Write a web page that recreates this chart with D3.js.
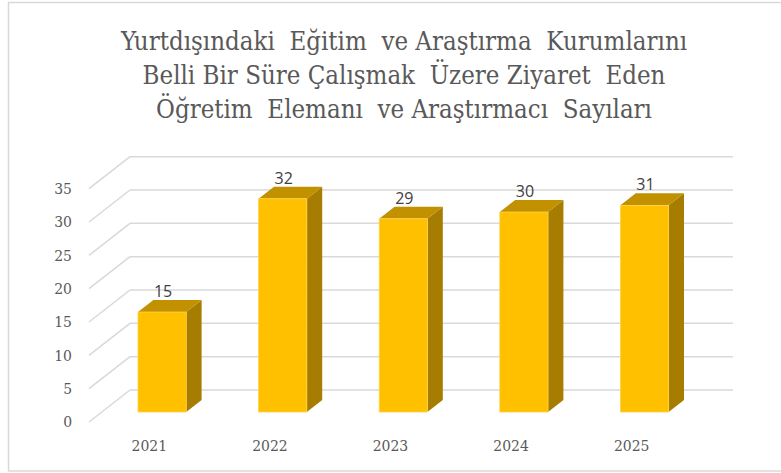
<!DOCTYPE html>
<html>
<head>
<meta charset="utf-8">
<script src="https://cdn.jsdelivr.net/npm/d3@7"></script>
<style>
  body { margin: 0; background: #fff; }
  svg { display: block; }
  .serif { font-family: "DejaVu Serif Condensed", "DejaVu Serif", serif; font-stretch: condensed; }
</style>
</head>
<body>
<script>
// chart data
const years = ["2021", "2022", "2023", "2024", "2025"]
const counts = [15, 32, 29, 30, 31]
const yTicks = [0, 5, 10, 15, 20, 25, 30, 35]
const titleLines = [
  "Yurtdışındaki  Eğitim  ve Araştırma  Kurumlarını",
  "Belli Bir Süre Çalışmak  Üzere Ziyaret  Eden",
  "Öğretim  Elemanı  ve Araştırmacı  Sayıları"
]

const width = 781, height = 473

const svg = d3.select("body").append("svg")
  .attr("width", width)
  .attr("height", height)

// outer frame (right edge falls off the picture)
svg.append("rect")
  .attr("x", 8.5).attr("y", 2.5)
  .attr("width", 800).attr("height", 468.5)
  .attr("fill", "none")
  .attr("stroke", "#d9d9d9")
  .attr("stroke-width", 1.5)

// title
svg.append("g").selectAll("text")
  .data(titleLines)
  .enter()
  .append("text")
  .attr("class", "serif")
  .attr("x", 404)
  .attr("y", (d, i) => 50 + i * 34)
  .attr("text-anchor", "middle")
  .attr("font-size", "25.6px")
  .attr("fill", "#595959")
  .style("white-space", "pre")
  .text(d => d)

// back wall scales, depth vector for the oblique floor
let x = d3.scaleBand().domain(years).range([130, 733]).padding(0)
let y = d3.scaleLinear().domain([0, 35]).range([390, 156.7])
let depth = [-41, 32]
let front = 0.6875, back = 0.3125
let barW = x.bandwidth() * 0.4

// gridlines: back wall + side wall diagonal
let grid = svg.append("g")
  .attr("stroke", "#d9d9d9")
  .attr("stroke-width", 1.5)
  .attr("fill", "none")

grid.selectAll(".back")
  .data(yTicks)
  .enter()
  .append("line")
  .attr("x1", x.range()[0]).attr("x2", x.range()[1])
  .attr("y1", d => y(d)).attr("y2", d => y(d))

grid.selectAll(".side")
  .data(yTicks)
  .enter()
  .append("line")
  .attr("x1", x.range()[0]).attr("y1", d => y(d))
  .attr("x2", x.range()[0] + depth[0]).attr("y2", d => y(d) + depth[1])

// y tick labels
svg.append("g").selectAll("text")
  .data(yTicks)
  .enter()
  .append("text")
  .attr("class", "serif")
  .attr("x", 72)
  .attr("y", d => y(d) + depth[1])
  .attr("dy", "0.35em")
  .attr("text-anchor", "end")
  .attr("font-size", "15.5px")
  .attr("fill", "#595959")
  .text(d => d)

// bars
let bars = svg.append("g").selectAll("g")
  .data(years.map((yr, i) => ({year: yr, value: counts[i]})))
  .enter()
  .append("g")

function corners(d) {
  let cx = x(d.year) + x.bandwidth() / 2
  let fx = cx + depth[0] * front - barW / 2
  let fy0 = y(0) + depth[1] * front
  let fy1 = y(d.value) + depth[1] * front
  let dx = depth[0] * (back - front), dy = depth[1] * (back - front)
  return {fx, fy0, fy1, dx, dy}
}

// right side face
bars.append("path")
  .attr("fill", "#a67d00")
  .attr("d", d => {
    let c = corners(d)
    let r = c.fx + barW
    return `M${r},${c.fy1} L${r + c.dx},${c.fy1 + c.dy} L${r + c.dx},${c.fy0 + c.dy} L${r},${c.fy0} Z`
  })

// top face
bars.append("path")
  .attr("fill", "#c29100")
  .attr("d", d => {
    let c = corners(d)
    return `M${c.fx},${c.fy1} L${c.fx + c.dx},${c.fy1 + c.dy} L${c.fx + barW + c.dx},${c.fy1 + c.dy} L${c.fx + barW},${c.fy1} Z`
  })

// front face
bars.append("rect")
  .attr("fill", "#ffc000")
  .attr("stroke", "#ffd34d")
  .attr("stroke-width", 0.8)
  .attr("x", d => corners(d).fx)
  .attr("y", d => corners(d).fy1)
  .attr("width", barW)
  .attr("height", d => corners(d).fy0 - corners(d).fy1)

// value labels
bars.append("text")
  .attr("x", d => corners(d).fx + barW / 2 + 1)
  .attr("y", d => corners(d).fy1 + corners(d).dy - 3)
  .attr("text-anchor", "middle")
  .attr("font-family", "'Open Sans', 'Liberation Sans', sans-serif")
  .attr("font-size", "16px")
  .attr("fill", "#404040")
  .text(d => d.value)

// category labels along the front floor edge
svg.append("g").selectAll("text")
  .data(years)
  .enter()
  .append("text")
  .attr("class", "serif")
  .attr("x", d => x(d) + x.bandwidth() / 2 + depth[0])
  .attr("y", 451)
  .attr("text-anchor", "middle")
  .attr("font-size", "15.5px")
  .attr("fill", "#595959")
  .text(d => d)
</script>
</body>
</html>
